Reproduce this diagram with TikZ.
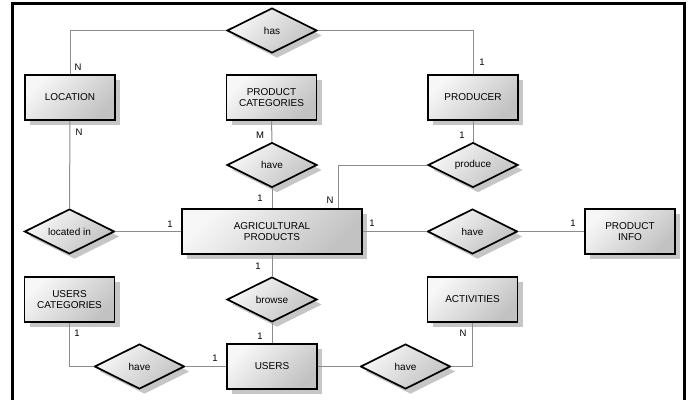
\documentclass[tikz,border=0pt]{standalone}
\usepackage{fontspec}
\setmainfont{Liberation Sans}
\usetikzlibrary{shapes.geometric,shadows}
\begin{document}
\begin{tikzpicture}[x=1pt,y=-1pt,
  font=\fontsize{10}{11.2}\selectfont,
  shapebase/.style={draw=black,line width=1.7pt,
    top color=gray!6,bottom color=gray!48,shading angle=45,
    drop shadow={shadow xshift=5pt,shadow yshift=-5pt,fill=gray!45,draw=none,opacity=1},
    align=center,inner sep=0pt},
  entity/.style={shapebase,rectangle,minimum width=90pt,minimum height=45pt},
  bigentity/.style={entity,minimum width=180pt},
  rel/.style={shapebase,diamond,aspect=2,minimum width=90pt,minimum height=45pt},
  conn/.style={draw=gray!90,line width=1pt},
  card/.style={inner sep=0pt,font=\fontsize{9.5}{10}\selectfont}]
\useasboundingbox (0,0) rectangle (688,399);
\draw[line width=2.2pt] (12.5,3.5) rectangle (684.5,420);

% entities
\node[entity] (loc) at (70,97.5) {LOCATION};
\node[entity] (pcat) at (271.5,97.5) {PRODUCT\\CATEGORIES};
\node[entity] (prod) at (473,97.5) {PRODUCER};
\node[bigentity] (ag) at (272,231.5) {AGRICULTURAL\\PRODUCTS};
\node[entity] (pinfo) at (630,231.5) {PRODUCT\\INFO};
\node[entity] (ucat) at (69.5,299.5) {USERS\\CATEGORIES};
\node[entity] (act) at (472.5,299.5) {ACTIVITIES};
\node[entity] (users) at (272,366.5) {USERS};

% relationships
\node[rel] (has) at (272,30.5) {has};
\node[rel] (have1) at (272,165) {have};
\node[rel] (produce) at (473,165) {produce};
\node[rel] (locin) at (69.5,231.5) {located in};
\node[rel] (have2) at (472.5,231.5) {have};
\node[rel] (browse) at (272,299.5) {browse};
\node[rel] (have3) at (139.5,366.5) {have};
\node[rel] (have4) at (405.5,366.5) {have};

% connectors
\draw[conn] (has.west) -| (loc.north);
\draw[conn] (has.east) -| (prod.north);
\draw[conn] (pcat) -- (have1);
\draw[conn] (have1) -- (ag);
\draw[conn] (prod) -- (produce);
\coordinate (agn) at ([xshift=66pt]ag.north);
\draw[conn] (produce.west) -| (agn);
\draw[conn] (loc) -- (locin);
\draw[conn] (locin) -- (ag);
\draw[conn] (ag) -- (have2);
\draw[conn] (have2) -- (pinfo);
\draw[conn] (ag) -- (browse);
\draw[conn] (browse) -- (users);
\draw[conn] (ucat.south) |- (have3.west);
\draw[conn] (have3) -- (users);
\draw[conn] (users) -- (have4);
\draw[conn] (have4.east) -| (act.south);

% cardinalities
\node[card] (c1) at (78,67.5) {N};
\node[card] (c2) at (482,62) {1};
\node[card] (c3) at (79,132) {N};
\node[card] (c4) at (260,135) {M};
\node[card] (c5) at (462,135) {1};
\node[card] (c6) at (260,198) {1};
\node[card] (c7) at (330,200) {N};
\node[card] (c8) at (170,224) {1};
\node[card] (c9) at (372,223) {1};
\node[card] (c10) at (573,223) {1};
\node[card] (c11) at (258,266) {1};
\node[card] (c12) at (77,333) {1};
\node[card] (c13) at (260,336) {1};
\node[card] (c14) at (215,358) {1};
\node[card] (c15) at (463,333) {N};
\end{tikzpicture}
\end{document}
